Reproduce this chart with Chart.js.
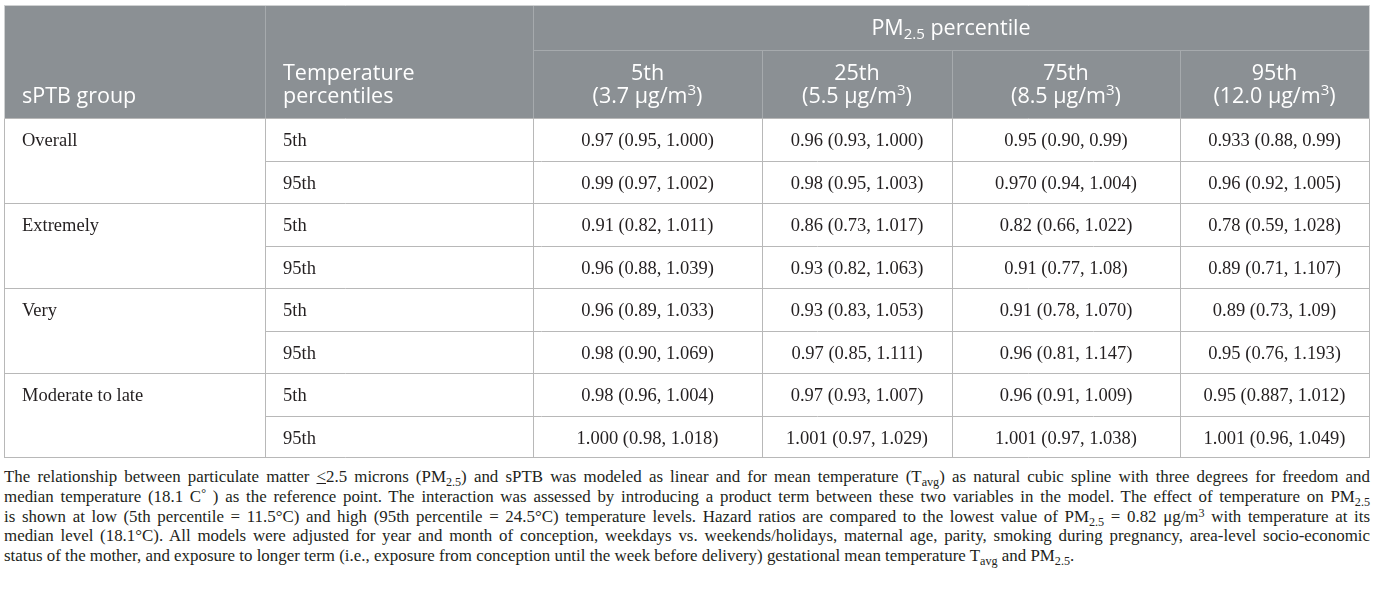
<!DOCTYPE html>
<html>
<head>
<meta charset="utf-8">
<script src="https://cdn.jsdelivr.net/npm/chart.js@4.4.1/dist/chart.umd.min.js"></script>
<style>
  html, body { margin: 0; padding: 0; background: #fff; }
  #wrap { position: relative; width: 1375px; height: 591px; overflow: hidden; }
  #tableBox { position: absolute; left: 0; top: 0; width: 1375px; height: 461px; }
  #note {
    position: absolute; left: 4px; top: 467px; width: 1366px;
    font-family: "Liberation Serif", "DejaVu Serif", serif;
    font-size: 16.9px; line-height: 19.8px; color: #231f20;
  }
  #note div { text-align: justify; text-align-last: justify; }
  #note div.last { text-align-last: left; }
  #note sub { font-size: 0.72em; vertical-align: -0.3em; line-height: 0; }
  #note sup { font-size: 0.72em; vertical-align: 0.45em; line-height: 0; }
</style>
</head>
<body>
<div id="wrap">
  <div id="tableBox"><canvas id="tbl"></canvas></div>
  <div id="note">
    <div>The relationship between particulate matter <u>&lt;</u>2.5 microns (PM<sub>2.5</sub>) and sPTB was modeled as linear and for mean temperature (T<sub>avg</sub>) as natural cubic spline with three degrees for freedom and</div>
    <div>median temperature (18.1 C<sup>°</sup> ) as the reference point. The interaction was assessed by introducing a product term between these two variables in the model. The effect of temperature on PM<sub>2.5</sub></div>
    <div>is shown at low (5th percentile = 11.5°C) and high (95th percentile = 24.5°C) temperature levels. Hazard ratios are compared to the lowest value of PM<sub>2.5</sub> = 0.82 μg/m<sup>3</sup> with temperature at its</div>
    <div>median level (18.1°C). All models were adjusted for year and month of conception, weekdays vs. weekends/holidays, maternal age, parity, smoking during pregnancy, area-level socio-economic</div>
    <div class="last">status of the mother, and exposure to longer term (i.e., exposure from conception until the week before delivery) gestational mean temperature T<sub>avg</sub> and PM<sub>2.5</sub>.</div>
  </div>
</div>
<script>
// table content
const sptbGroups = ['Overall', 'Extremely', 'Very', 'Moderate to late'];
const tempPercentiles = ['5th', '95th'];
const pmPercentiles = ['5th', '25th', '75th', '95th'];
const pmLevels = ['3.7', '5.5', '8.5', '12.0'];

// hazard ratios (95% CI), one array per PM2.5 column, rows = group x temperature
const hrPm5 = ['0.97 (0.95, 1.000)', '0.99 (0.97, 1.002)', '0.91 (0.82, 1.011)', '0.96 (0.88, 1.039)',
               '0.96 (0.89, 1.033)', '0.98 (0.90, 1.069)', '0.98 (0.96, 1.004)', '1.000 (0.98, 1.018)'];
const hrPm25 = ['0.96 (0.93, 1.000)', '0.98 (0.95, 1.003)', '0.86 (0.73, 1.017)', '0.93 (0.82, 1.063)',
                '0.93 (0.83, 1.053)', '0.97 (0.85, 1.111)', '0.97 (0.93, 1.007)', '1.001 (0.97, 1.029)'];
const hrPm75 = ['0.95 (0.90, 0.99)', '0.970 (0.94, 1.004)', '0.82 (0.66, 1.022)', '0.91 (0.77, 1.08)',
                '0.91 (0.78, 1.070)', '0.96 (0.81, 1.147)', '0.96 (0.91, 1.009)', '1.001 (0.97, 1.038)'];
const hrPm95 = ['0.933 (0.88, 0.99)', '0.96 (0.92, 1.005)', '0.78 (0.59, 1.028)', '0.89 (0.71, 1.107)',
                '0.89 (0.73, 1.09)', '0.95 (0.76, 1.193)', '0.95 (0.887, 1.012)', '1.001 (0.96, 1.049)'];
const hrColumns = [hrPm5, hrPm25, hrPm75, hrPm95];

// layout
const colWidths = [261, 268, 229, 190, 228, 189];
const colEdges = colWidths.reduce((a, w) => { a.push(a[a.length - 1] + w); return a; }, [0]);
const colMid = i => (colEdges[i] + colEdges[i + 1]) / 2;
const rowKeys = sptbGroups.flatMap(g => tempPercentiles.map(t => g + '|' + t));

const headTop = 5, headSplit = 50;
const headFill = '#8b9094', headLine = '#a6aaad', bodyLine = '#b8b8b8', ink = '#231f20';
const sansFont = '"Open Sans", "DejaVu Sans", sans-serif';
const serifFont = '"Liberation Serif", "DejaVu Serif", serif';

// draw text made of runs, some of them sub/superscript
function richText(ctx, runs, x, y, size, align) {
  const fontFor = r => (r.sub || r.sup ? size * 0.7 : size) + 'px ' + sansFont;
  let w = 0;
  runs.forEach(r => { ctx.font = fontFor(r); w += ctx.measureText(r.t).width; });
  let cx = align === 'center' ? x - w / 2 : x;
  ctx.textAlign = 'left';
  ctx.textBaseline = 'middle';
  runs.forEach(r => {
    ctx.font = fontFor(r);
    const dy = r.sub ? size * 0.28 : r.sup ? -size * 0.3 : 0;
    ctx.fillText(r.t, cx, y + dy);
    cx += ctx.measureText(r.t).width;
  });
}

const tablePainter = {
  id: 'tablePainter',
  beforeDatasetsDraw(chart) {
    const {ctx, chartArea: a, scales: {x, y}} = chart;
    const X = i => Math.round(x.getPixelForValue(colEdges[i])) + 0.5;
    const band = y.getPixelForValue(1) - y.getPixelForValue(0);
    const rowTop = i => Math.round(y.getPixelForValue(i) - band / 2) + 0.5;
    ctx.save();
    ctx.lineWidth = 1;

    // header block
    ctx.fillStyle = headFill;
    ctx.fillRect(X(0), headTop + 1, X(6) - X(0), a.top - headTop - 1);
    ctx.strokeStyle = headLine;
    ctx.beginPath();
    [1, 2].forEach(i => { ctx.moveTo(X(i), headTop); ctx.lineTo(X(i), a.top); });
    [3, 4, 5].forEach(i => { ctx.moveTo(X(i), headSplit); ctx.lineTo(X(i), a.top); });
    ctx.moveTo(X(2), headSplit + 0.5); ctx.lineTo(X(6), headSplit + 0.5);
    ctx.stroke();

    // body grid
    ctx.strokeStyle = bodyLine;
    ctx.beginPath();
    for (let r = 0; r <= rowKeys.length; r++) {
      const yy = r === rowKeys.length ? Math.round(a.bottom) - 0.5 : rowTop(r);
      const from = (r % 2 === 1) ? X(1) : X(0);
      ctx.moveTo(from, yy); ctx.lineTo(X(6), yy);
    }
    for (let i = 0; i <= 6; i++) {
      ctx.moveTo(X(i), rowTop(0)); ctx.lineTo(X(i), Math.round(a.bottom));
    }
    ctx.stroke();

    // outer frame of header
    ctx.strokeStyle = '#cfd1d2';
    ctx.beginPath();
    ctx.moveTo(X(0), headTop + 0.5); ctx.lineTo(X(6), headTop + 0.5);
    ctx.moveTo(X(0), headTop); ctx.lineTo(X(0), a.top);
    ctx.moveTo(X(6), headTop); ctx.lineTo(X(6), a.top);
    ctx.stroke();

    // header text
    ctx.fillStyle = '#ffffff';
    const hs = 21.5;
    const line1 = 74, line2 = 97;
    richText(ctx, [{t: 'sPTB group'}], x.getPixelForValue(colEdges[0]) + 18, line2, hs, 'left');
    richText(ctx, [{t: 'Temperature'}], x.getPixelForValue(colEdges[1]) + 18, line1, hs, 'left');
    richText(ctx, [{t: 'percentiles'}], x.getPixelForValue(colEdges[1]) + 18, line2, hs, 'left');
    const pmMid = (x.getPixelForValue(colEdges[2]) + x.getPixelForValue(colEdges[6])) / 2;
    richText(ctx, [{t: 'PM'}, {t: '2.5', sub: true}, {t: ' percentile'}], pmMid, 29, hs, 'center');
    pmPercentiles.forEach((p, i) => {
      const cx = x.getPixelForValue(colMid(i + 2));
      richText(ctx, [{t: p}], cx, line1, hs, 'center');
      richText(ctx, [{t: '(' + pmLevels[i] + ' μg/m'}, {t: '3', sup: true}, {t: ')'}], cx, line2, hs, 'center');
    });
    ctx.restore();
  },
  afterDatasetsDraw(chart) {
    const {ctx} = chart;
    ctx.save();
    ctx.fillStyle = ink;
    ctx.textBaseline = 'middle';
    chart.data.datasets.forEach((ds, di) => {
      const meta = chart.getDatasetMeta(di);
      ctx.font = ds.textSize + 'px ' + serifFont;
      ctx.textAlign = ds.textAlign;
      meta.data.forEach((pt, i) => {
        ctx.fillText(ds.data[i].text, pt.x + ds.textOffset, pt.y + 2);
      });
    });
    ctx.restore();
  }
};

const datasets = [
  {
    label: 'sPTB group',
    data: sptbGroups.map((g, gi) => ({x: colEdges[0], y: rowKeys[gi * tempPercentiles.length], text: g})),
    textAlign: 'left', textOffset: 18, textSize: 18.5
  },
  {
    label: 'Temperature percentiles',
    data: rowKeys.map((k, i) => ({x: colEdges[1], y: k, text: tempPercentiles[i % tempPercentiles.length]})),
    textAlign: 'left', textOffset: 18, textSize: 18.5
  },
  ...hrColumns.map((col, c) => ({
    label: 'PM2.5 ' + pmPercentiles[c],
    data: col.map((v, i) => ({x: colMid(c + 2), y: rowKeys[i], text: v})),
    textAlign: 'center', textOffset: 0, textSize: 18.5
  }))
];

new Chart(document.getElementById('tbl'), {
  type: 'scatter',
  data: {datasets: datasets.map(d => Object.assign(d, {pointRadius: 0, pointHoverRadius: 0}))},
  options: {
    responsive: true,
    maintainAspectRatio: false,
    animation: false,
    events: [],
    layout: {padding: {left: 4, right: 6, top: 118, bottom: 3}},
    plugins: {legend: {display: false}, tooltip: {enabled: false}},
    scales: {
      x: {type: 'linear', min: 0, max: colEdges[colEdges.length - 1], display: false},
      y: {type: 'category', labels: rowKeys, offset: true, display: false}
    }
  },
  plugins: [tablePainter]
});
</script>
</body>
</html>
